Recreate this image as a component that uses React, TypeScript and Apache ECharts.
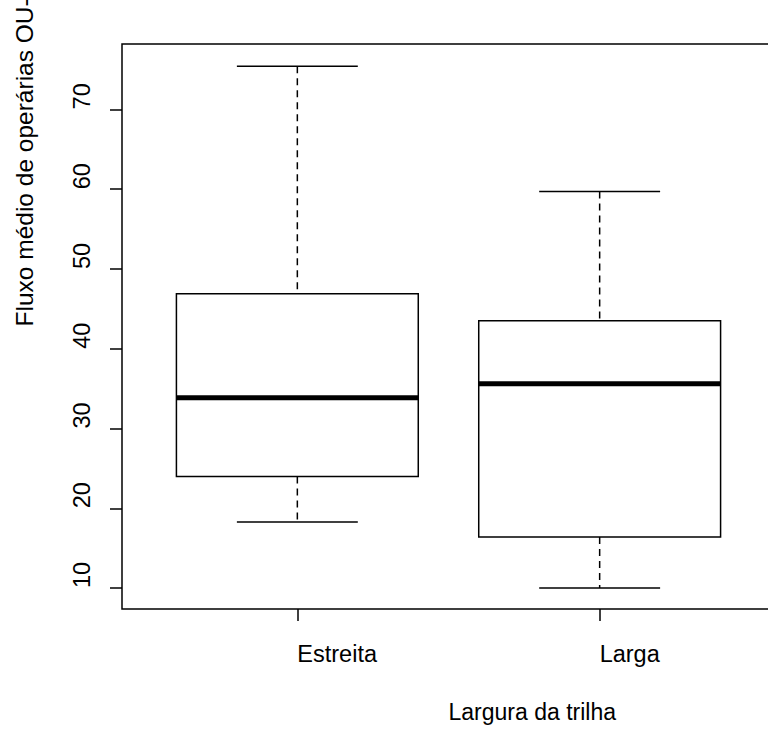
import React, { useEffect, useRef } from "react";
import * as echarts from "echarts";

const categories = ["Estreita", "Larga"];
const lowWhisker = [18.3, 10.0];
const q1Values = [24.0, 16.4];
const medianValues = [33.85, 35.6];
const q3Values = [46.9, 43.5];
const highWhisker = [75.4, 59.7];
const yTicks = [10, 20, 30, 40, 50, 60, 70];
const xTickPositions = [1, 2];

const FONT = "'Liberation Sans', Arial, Helvetica, sans-serif";

export default function App() {
  const ref = useRef<HTMLDivElement>(null);
  useEffect(() => {
    if (!ref.current) return;
    const chart = echarts.init(ref.current, undefined, { renderer: "svg" });
    const data = categories.map((_, i) => [
      xTickPositions[i],
      lowWhisker[i],
      q1Values[i],
      medianValues[i],
      q3Values[i],
      highWhisker[i],
    ]);
    const option: any = {
      animation: false,
      backgroundColor: "#ffffff",
      textStyle: { fontFamily: FONT, color: "#000" },
      grid: {
        left: 122,
        top: 44,
        width: 653,
        height: 565,
        outerBoundsMode: "none",
        containLabel: false,
        show: true,
        borderColor: "#000",
        borderWidth: 1.5,
        backgroundColor: "transparent",
      },
      xAxis: {
        type: "value",
        min: 0.42,
        max: 2.58,
        axisLine: { show: false },
        splitLine: { show: false },
        axisTick: {
          show: true,
          customValues: xTickPositions,
          length: 12,
          lineStyle: { color: "#000", width: 1.5 },
        },
        axisLabel: {
          customValues: xTickPositions,
          formatter: (v: number) => categories[Math.round(v) - 1] ?? "",
          align: "left",
          verticalAlign: "middle",
          margin: 45,
          fontSize: 23.5,
          color: "#000",
          fontFamily: FONT,
        },
        name: "Largura da trilha",
        nameLocation: "middle",
        nameGap: 103,
        nameTextStyle: {
          align: "left",
          verticalAlign: "middle",
          fontSize: 23,
          color: "#000",
          fontFamily: FONT,
        },
      },
      yAxis: {
        type: "value",
        min: 7.38,
        max: 78.2,
        axisLine: { show: false },
        splitLine: { show: false },
        axisTick: {
          show: true,
          customValues: yTicks,
          length: 12,
          lineStyle: { color: "#000", width: 1.5 },
        },
        axisLabel: {
          customValues: yTicks,
          rotate: 90,
          align: "left",
          verticalAlign: "middle",
          margin: 40,
          fontSize: 23.5,
          color: "#000",
          fontFamily: FONT,
        },
        name: "Fluxo médio de operárias OU-",
        nameLocation: "middle",
        nameRotate: 90,
        nameGap: 98,
        nameTextStyle: {
          align: "left",
          verticalAlign: "middle",
          fontSize: 24.5,
          color: "#000",
          fontFamily: FONT,
        },
      },
      series: [
        {
          type: "custom",
          data,
          encode: { x: 0, y: [1, 2, 3, 4, 5] },
          renderItem: (params: any, api: any) => {
            const x = api.value(0);
            const lo = api.coord([x, api.value(1)]);
            const b1 = api.coord([x, api.value(2)]);
            const md = api.coord([x, api.value(3)]);
            const b3 = api.coord([x, api.value(4)]);
            const hi = api.coord([x, api.value(5)]);
            const boxW = api.size([0.8, 0])[0];
            const capW = api.size([0.4, 0])[0];
            const cx = lo[0];
            const stroke = { stroke: "#000", lineWidth: 1.5, fill: "none" };
            return {
              type: "group",
              children: [
                {
                  type: "line",
                  shape: { x1: cx, y1: hi[1], x2: cx, y2: b3[1] },
                  style: { ...stroke, lineDash: [7, 5] },
                },
                {
                  type: "line",
                  shape: { x1: cx, y1: b1[1], x2: cx, y2: lo[1] },
                  style: { ...stroke, lineDash: [7, 5] },
                },
                {
                  type: "line",
                  shape: { x1: cx - capW / 2, y1: hi[1], x2: cx + capW / 2, y2: hi[1] },
                  style: stroke,
                },
                {
                  type: "line",
                  shape: { x1: cx - capW / 2, y1: lo[1], x2: cx + capW / 2, y2: lo[1] },
                  style: stroke,
                },
                {
                  type: "rect",
                  shape: { x: cx - boxW / 2, y: b3[1], width: boxW, height: b1[1] - b3[1] },
                  style: { ...stroke, fill: "#fff" },
                },
                {
                  type: "line",
                  shape: { x1: cx - boxW / 2, y1: md[1], x2: cx + boxW / 2, y2: md[1] },
                  style: { stroke: "#000", lineWidth: 5 },
                },
              ],
            };
          },
        },
      ],
    };
    chart.setOption(option);
    return () => chart.dispose();
  }, []);
  return (
    <div
      ref={ref}
      style={{ position: "fixed", left: 0, top: 0, width: 768, height: 731, background: "#fff" }}
    />
  );
}
